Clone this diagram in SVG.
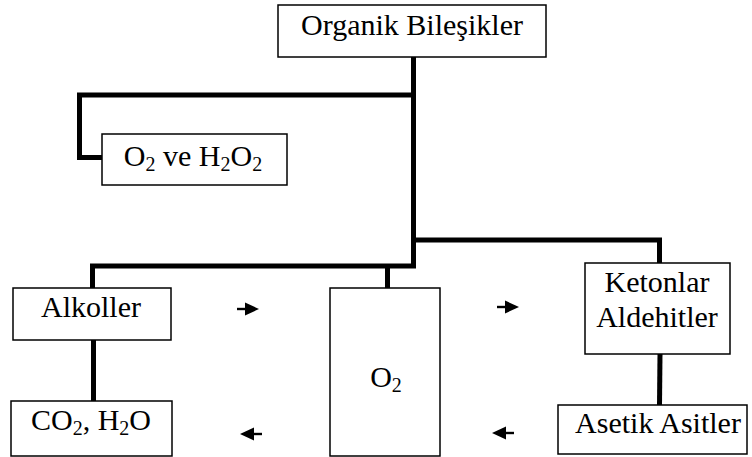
<svg xmlns="http://www.w3.org/2000/svg" width="752" height="457" viewBox="0 0 752 457">
<style>
.box{fill:#fff;stroke:#000;stroke-width:1.5}
.t{font-family:"Liberation Serif","Times New Roman",Times,serif;font-size:30px;fill:#000;text-anchor:middle}
.sub{font-size:20px}
.c{fill:none;stroke:#000;stroke-width:5;stroke-linejoin:miter;stroke-linecap:butt}
</style>
<defs>
<g id="arr">
<rect x="0" y="-1.2" width="10" height="2.4" fill="#000"/>
<path d="M8,-6.5 L22,0 L8,6.5 Z" fill="#000"/>
</g>
</defs>
<rect width="752" height="457" fill="#fff"/>
<g id="connectors">
<path class="c" d="M413.5 57 V266 H92.5 V288"/>
<path class="c" d="M413.5 95 H79.5 V157.5 H102"/>
<path class="c" d="M413.5 240 H659.5 V263"/>
<path class="c" d="M387.5 266 V288"/>
<path class="c" d="M93.5 340 V401"/>
<path class="c" d="M660 354 L659.5 405"/>
<use href="#arr" transform="translate(237 309)"/>
<use href="#arr" transform="translate(497 307)"/>
<use href="#arr" transform="translate(262 434) scale(-1 1)"/>
<use href="#arr" transform="translate(514 433) scale(-1 1)"/>
</g>
<g id="organik">
<rect class="box" x="278" y="5" width="268" height="52"/>
<text class="t" x="412" y="35">Organik Bileşikler</text>
</g>
<g id="o2h2o2">
<rect class="box" x="102" y="134" width="185" height="51"/>
<text class="t" x="193" y="166">O<tspan class="sub" dy="5">2</tspan><tspan dy="-5"> ve H</tspan><tspan class="sub" dy="5">2</tspan><tspan dy="-5">O</tspan><tspan class="sub" dy="5">2</tspan></text>
</g>
<g id="alkoller">
<rect class="box" x="13" y="288" width="158" height="52"/>
<text class="t" x="91" y="317">Alkoller</text>
</g>
<g id="o2">
<rect class="box" x="330" y="288" width="110" height="168"/>
<text class="t" x="386" y="387">O<tspan class="sub" dy="5">2</tspan></text>
</g>
<g id="ketonlar">
<rect class="box" x="585" y="263" width="145" height="91"/>
<text class="t" x="657" y="292">Ketonlar</text>
<text class="t" x="657" y="327">Aldehitler</text>
</g>
<g id="co2h2o">
<rect class="box" x="11" y="401" width="161" height="55"/>
<text class="t" x="91" y="430">CO<tspan class="sub" dy="5">2</tspan><tspan dy="-5">, H</tspan><tspan class="sub" dy="5">2</tspan><tspan dy="-5">O</tspan></text>
</g>
<g id="asetik">
<rect class="box" x="558" y="405" width="189" height="49"/>
<text class="t" x="658" y="433">Asetik Asitler</text>
</g>
</svg>
